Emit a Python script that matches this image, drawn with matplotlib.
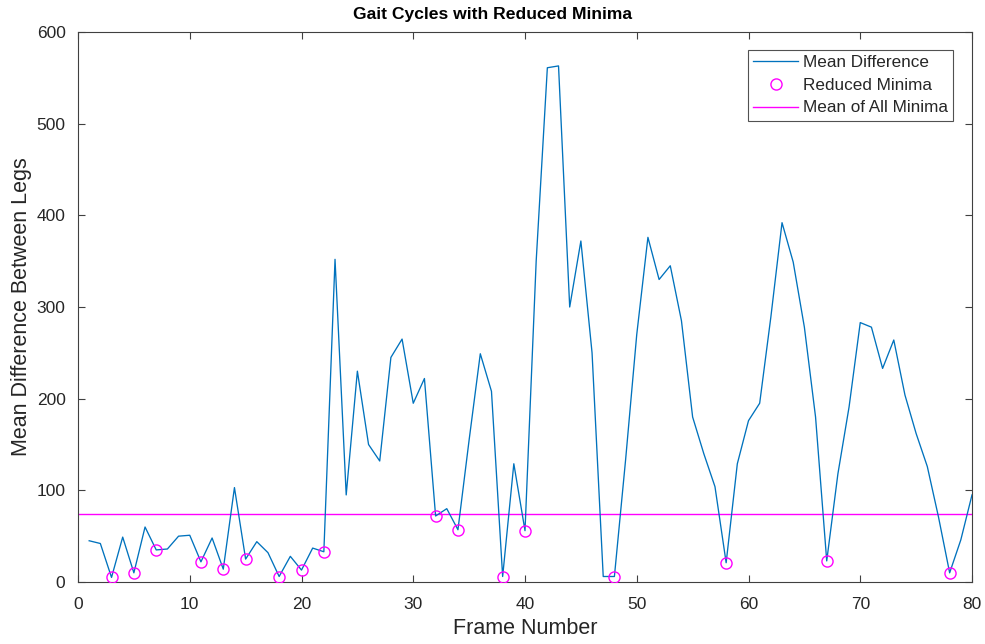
import matplotlib
matplotlib.use("Agg")
import matplotlib.pyplot as plt
import numpy as np

plt.rcParams['font.family'] = ['Liberation Sans', 'DejaVu Sans']

# ---- data ----
frames = list(range(1, 81))
mean_diff = [45, 42, 5, 49, 10, 60, 35, 36, 50, 51,
             22, 48, 14, 103, 25, 44, 32, 6, 28, 13,
             37, 33, 352, 95, 230, 150, 132, 245, 265, 195,
             222, 72, 80, 57, 155, 249, 208, 6, 129, 56,
             350, 561, 563, 300, 372, 250, 6, 6, 133, 270,
             376, 330, 345, 285, 180, 140, 104, 21, 129, 176,
             195, 289, 392, 349, 278, 180, 23, 118, 191, 283,
             278, 233, 264, 204, 162, 126, 71, 10, 46, 95]
minima_frames = [3, 5, 7, 11, 13, 15, 18, 20, 22, 32, 34, 38, 40, 48, 58, 67, 78]
mean_of_minima = 74
x_ticks = [0, 10, 20, 30, 40, 50, 60, 70, 80]
y_ticks = [0, 100, 200, 300, 400, 500, 600]

title = "Gait Cycles with Reduced Minima"
xlabel = "Frame Number"
ylabel = "Mean Difference Between Legs"

# ---- figure ----
W, H = 985, 644
fig = plt.figure(figsize=(W / 100, H / 100), dpi=100)
ax = fig.add_axes([78 / W, 1 - 582 / H, (972 - 78) / W, (582 - 32) / H])

blue = '#0072BD'
mag = '#FF00FF'
grey = '#404040'

minima_vals = [mean_diff[frames.index(f)] for f in minima_frames]

ax.plot(frames, mean_diff, color=blue, lw=0.95, label='Mean Difference', zorder=3)
ax.plot(minima_frames, minima_vals, linestyle='none', marker='o', markersize=8,
        markerfacecolor='none', markeredgecolor=mag, markeredgewidth=1.0,
        label='Reduced Minima', zorder=4)
ax.axhline(mean_of_minima, color=mag, lw=1.0, label='Mean of All Minima', zorder=2)

ax.set_xlim(0, 80)
ax.set_ylim(0, 600)
ax.set_xticks(x_ticks)
ax.set_yticks(y_ticks)
ax.tick_params(direction='in', length=5, width=0.8, color=grey, labelcolor='#262626',
               labelsize=12.5, top=True, right=True)
ax.tick_params(axis='x', pad=11)
ax.tick_params(axis='y', pad=9)
for s in ax.spines.values():
    s.set_color(grey)
    s.set_linewidth(0.8)

fig.text(492.5 / W, 1 - 15 / H, title, fontsize=12.6, fontweight='bold',
         color='black', ha='center', va='center')
ax.set_xlabel(xlabel, fontsize=15.5, color='#262626', labelpad=4)
ax.set_ylabel(ylabel, fontsize=15.5, color='#262626', labelpad=3)

leg = ax.legend(loc='upper right', bbox_to_anchor=(953 / W, 1 - 50 / H),
                bbox_transform=fig.transFigure, borderaxespad=0,
                fontsize=12.3, frameon=True, fancybox=False, handlelength=2.6,
                handletextpad=0.3, borderpad=0.3, labelspacing=0.45)
leg.get_frame().set_edgecolor('#262626')
leg.get_frame().set_linewidth(0.8)
for t in leg.get_texts():
    t.set_color('#262626')

fig.savefig('out.png', dpi=100)
